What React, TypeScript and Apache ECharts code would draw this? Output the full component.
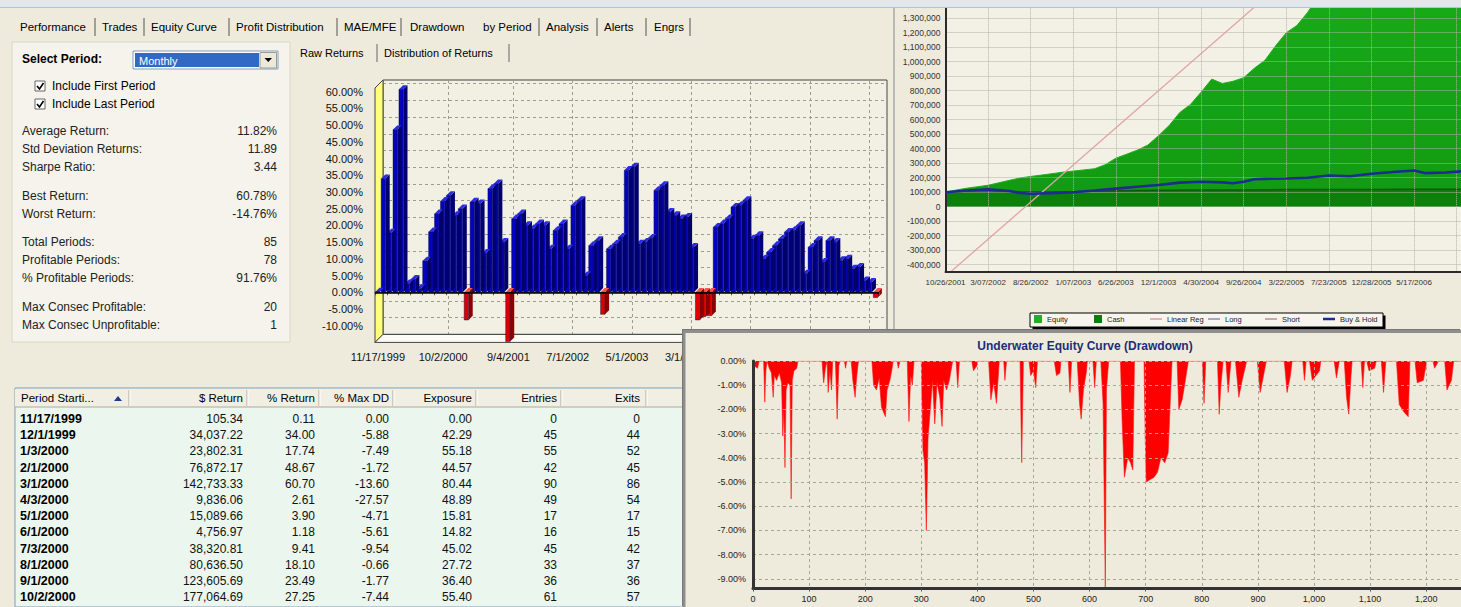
import React, { useEffect, useRef } from 'react';
import * as echarts from 'echarts';

const FONT = '"Liberation Sans", Arial, sans-serif';

// ---------------- Raw returns by period (monthly) ----------------
const periodStarts = [
  '11/17/1999', '12/1/1999',
  '1/3/2000', '2/1/2000', '3/1/2000', '4/3/2000', '5/1/2000', '6/1/2000', '7/3/2000', '8/1/2000', '9/1/2000', '10/2/2000', '11/1/2000', '12/1/2000',
  '1/2/2001', '2/1/2001', '3/1/2001', '4/2/2001', '5/1/2001', '6/1/2001', '7/2/2001', '8/1/2001', '9/4/2001', '10/1/2001', '11/1/2001', '12/3/2001',
  '1/2/2002', '2/1/2002', '3/1/2002', '4/1/2002', '5/1/2002', '6/3/2002', '7/1/2002', '8/1/2002', '9/3/2002', '10/1/2002', '11/1/2002', '12/2/2002',
  '1/2/2003', '2/3/2003', '3/3/2003', '4/1/2003', '5/1/2003', '6/2/2003', '7/1/2003', '8/1/2003', '9/2/2003', '10/1/2003', '11/3/2003', '12/1/2003',
  '1/2/2004', '2/2/2004', '3/1/2004', '4/1/2004', '5/3/2004', '6/1/2004', '7/1/2004', '8/2/2004', '9/1/2004', '10/1/2004', '11/1/2004', '12/1/2004',
  '1/3/2005', '2/1/2005', '3/1/2005', '4/1/2005', '5/2/2005', '6/1/2005', '7/1/2005', '8/1/2005', '9/1/2005', '10/3/2005', '11/1/2005', '12/1/2005',
  '1/3/2006', '2/1/2006', '3/1/2006', '4/3/2006', '5/1/2006', '6/1/2006', '7/3/2006', '8/1/2006', '9/1/2006', '10/2/2006', '11/1/2006',
];
const returnsPct = [
  0.11, 34.0, 17.74, 48.67, 60.7, 2.61, 3.9, 1.18, 9.41, 18.1, 23.49, 27.25,
  29.0, 23.0, 25.0, -8.3, 27.0, 26.5, 11.7, 31.0, 32.5, 15.0, -14.76, 22.0,
  23.5, 20.0, 19.0, 20.5, 20.0, 13.0, 18.5, 20.5, 13.0, 26.0, 27.5, 5.0,
  14.0, 15.5, -6.6, 13.0, 14.5, 16.5, 36.5, 37.5, 14.5, 15.0, 16.2, 30.5,
  32.0, 24.0, 23.0, 22.0, 22.5, 13.5, -8.3, -7.3, -7.0, 19.5, 20.5, 22.0,
  25.5, 26.0, 27.5, 16.0, 17.0, 10.0, 12.0, 14.0, 16.0, 18.0, 18.5, 20.0,
  5.5, 13.5, 15.5, 9.0, 15.5, 15.0, 9.5, 10.0, 7.0, 7.5, 3.5, 3.0, -1.6,
];
const periodLabelIndex = [0, 11, 22, 32, 42, 52];
const periodGridIndex = [0, 11, 22, 32, 42, 52, 62, 72, 82];

// ---------------- Summary statistics ----------------
const statLabels = [
  'Average Return:', 'Std Deviation Returns:', 'Sharpe Ratio:',
  'Best Return:', 'Worst Return:',
  'Total Periods:', 'Profitable Periods:', '% Profitable Periods:',
  'Max Consec Profitable:', 'Max Consec Unprofitable:',
];
const statValues = ['11.82%', '11.89', '3.44', '60.78%', '-14.76%', '85', '78', '91.76%', '20', '1'];

// ---------------- Period table ----------------
const tableColumns = ['Period Starti...', '$ Return', '% Return', '% Max DD', 'Exposure', 'Entries', 'Exits'];
const tableDates = ['11/17/1999', '12/1/1999', '1/3/2000', '2/1/2000', '3/1/2000', '4/3/2000', '5/1/2000', '6/1/2000', '7/3/2000', '8/1/2000', '9/1/2000', '10/2/2000'];
const tableDollar = ['105.34', '34,037.22', '23,802.31', '76,872.17', '142,733.33', '9,836.06', '15,089.66', '4,756.97', '38,320.81', '80,636.50', '123,605.69', '177,064.69'];
const tablePct = ['0.11', '34.00', '17.74', '48.67', '60.70', '2.61', '3.90', '1.18', '9.41', '18.10', '23.49', '27.25'];
const tableMaxDD = ['0.00', '-5.88', '-7.49', '-1.72', '-13.60', '-27.57', '-4.71', '-5.61', '-9.54', '-0.66', '-1.77', '-7.44'];
const tableExposure = ['0.00', '42.29', '55.18', '44.57', '80.44', '48.89', '15.81', '14.82', '45.02', '27.72', '36.40', '55.40'];
const tableEntries = ['0', '45', '55', '42', '90', '49', '17', '16', '45', '33', '36', '61'];
const tableExits = ['0', '44', '52', '45', '86', '54', '17', '15', '42', '37', '36', '57'];

// ---------------- Equity curve (x in date-label steps) ----------------
const equityDates = ['10/26/2001', '3/07/2002', '8/26/2002', '1/07/2003', '6/26/2003', '12/1/2003', '4/30/2004', '9/26/2004', '3/22/2005', '7/23/2005', '12/28/2005', '5/17/2006'];
const equityCurve = [
  [0, 100000], [0.25, 115000], [0.5, 128000], [0.75, 138000], [1, 148000], [1.25, 165000], [1.5, 182000], [1.75, 198000],
  [2, 209000], [2.25, 218000], [2.5, 228000], [2.75, 238000], [3, 246000], [3.25, 254000], [3.5, 262000], [3.75, 290000],
  [4, 335000], [4.25, 362000], [4.5, 390000], [4.75, 425000], [5, 490000], [5.25, 560000], [5.5, 650000], [5.75, 705000],
  [6, 790000], [6.25, 880000], [6.5, 850000], [6.75, 865000], [7, 890000], [7.25, 955000], [7.5, 1010000], [7.75, 1110000],
  [8, 1200000], [8.25, 1250000], [8.5, 1340000], [8.75, 1450000], [9, 1560000], [9.5, 1700000], [10, 1850000], [10.5, 1950000],
  [11, 2100000], [11.5, 2200000], [12, 2350000], [12.5, 2450000],
];
const cashCurve = [
  [0, 100000], [1, 100000], [2, 102000], [3, 104000], [4, 110000], [5, 113000], [6, 115000], [7, 116000],
  [8, 118000], [9, 118000], [10, 119000], [11, 120000], [12.5, 120000],
];
const buyHoldCurve = [
  [0, 100000], [0.5, 112000], [1, 120000], [1.5, 108000], [1.75, 95000], [2, 90000], [2.5, 94000], [3, 100000],
  [3.5, 112000], [4, 125000], [4.5, 138000], [5, 150000], [5.5, 166000], [6, 172000], [6.5, 168000], [6.75, 162000],
  [7, 172000], [7.25, 190000], [7.5, 192000], [8, 195000], [8.5, 200000], [9, 215000], [9.5, 210000], [10, 228000],
  [10.5, 240000], [11, 250000], [11.25, 232000], [11.75, 236000], [12.5, 252000],
];
const linearReg = [[0, -480000], [12.5, 2720000]];
const equityLegend = ['Equity', 'Cash', 'Linear Reg', 'Long', 'Short', 'Buy & Hold'];

// ---------------- Underwater curve (day, drawdown %) ----------------
const drawdownPoints = [
  [0, 0], [2, -0.2], [8, -0.3], [11, 0], [19, 0], [21, -1.7], [23, -0.4], [25, 0],
  [29, -0.3], [33, -0.5], [36, -1.5], [38, -0.6], [42, -0.8], [47, -0.5], [51, -0.9], [53, -3.1], [55, -2.0], [57, -4.4],
  [59, -1.2], [62, -0.9], [66, -1.0], [68, -5.7], [70, -0.8], [73, -0.4], [78, -0.3], [80, 0],
  [123, 0], [126, -0.9], [129, -0.3], [132, 0], [134, -1.3], [137, -0.4], [140, -1.2], [142, 0],
  [147, 0], [150, -2.4], [153, -0.2], [155, 0], [163, 0], [165, -0.3], [167, 0],
  [175, 0], [178, -0.8], [182, -1.5], [185, -0.6], [188, 0],
  [212, 0], [215, -1.0], [220, -1.2], [225, -0.7], [229, -1.9], [236, -2.3], [239, -1.2], [244, -0.8], [248, -0.3], [250, 0],
  [257, 0], [259, -0.3], [262, 0], [275, 0], [278, -2.5], [281, -0.6], [284, -1.0], [287, 0],
  [300, 0], [303, -3.7], [306, -4.2], [309, -7.0], [312, -3.2], [316, -2.0], [320, -0.8], [324, -2.6], [328, -0.9],
  [333, -1.5], [337, -2.7], [340, -0.8], [345, -1.2], [350, -0.8], [356, 0],
  [362, 0], [365, -1.1], [368, 0], [390, 0], [393, -0.4], [399, -0.2], [401, 0],
  [420, 0], [424, -1.6], [429, -0.9], [434, -1.75], [439, 0], [447, 0], [449, -0.8], [452, 0],
  [476, 0], [479, -4.2], [482, 0], [492, 0], [495, -0.6], [500, -0.4], [504, -1.1], [507, 0],
  [537, 0], [541, -0.6], [547, -0.5], [549, 0], [562, 0], [565, -1.3], [568, 0],
  [578, 0], [582, -1.75], [585, -2.4], [589, -1.2], [594, -0.5], [596, 0],
  [606, 0], [609, -1.1], [612, 0], [620, 0], [624, -1.75], [628, -9.4], [630, -1.2], [634, 0],
  [655, 0], [658, -2.5], [662, -4.8], [668, -4.0], [673, -4.2], [677, -4.5], [680, 0],
  [697, 0], [699, -3.0], [701, -5.0], [708, -4.9], [715, -4.8], [721, -4.6], [727, -4.0], [734, -4.2], [740, -3.8], [745, -1.0], [747, 0],
  [756, 0], [759, -2.0], [765, -1.6], [770, -0.9], [776, 0], [801, 0], [804, -1.75], [807, 0],
  [828, 0], [831, -2.2], [834, -1.0], [838, 0], [843, 0], [847, -1.3], [852, 0],
  [860, 0], [866, -1.5], [872, -0.8], [880, 0], [899, 0], [904, -1.3], [910, -0.6], [915, 0],
  [947, 0], [952, -1.3], [958, -0.6], [961, 0], [980, 0], [983, -0.8], [986, 0],
  [992, 0], [997, -0.8], [1010, -0.4], [1012, 0], [1036, 0], [1040, -0.7], [1045, 0],
  [1054, 0], [1058, -1.5], [1062, -2.2], [1066, -0.6], [1068, 0], [1084, 0], [1087, -1.1], [1090, 0],
  [1094, 0], [1098, -0.4], [1108, -0.3], [1111, 0], [1120, 0], [1124, -1.3], [1128, 0],
  [1147, 0], [1152, -1.8], [1160, -2.1], [1168, -2.3], [1171, 0], [1180, 0], [1184, -0.9], [1195, -0.8], [1201, 0],
  [1212, 0], [1215, -0.3], [1222, 0], [1233, 0], [1237, -1.2], [1245, -0.8], [1249, 0], [1300, 0],
];

// ---------------- helpers ----------------
const txt = (text: string, x: number, y: number, o: any = {}) => ({
  type: 'text', x, y, z: o.z ?? 10, silent: true,
  style: {
    text, fill: o.fill ?? '#000', fontSize: o.size ?? 12, fontFamily: FONT,
    fontWeight: o.bold ? 'bold' : 'normal', align: o.align ?? 'left', verticalAlign: 'middle',
  },
});
const rect = (x: number, y: number, w: number, h: number, fill: string, stroke?: string, z = 1) => ({
  type: 'rect', z, silent: true, shape: { x, y, width: w, height: h },
  style: { fill, stroke: stroke ?? 'none', lineWidth: 1 },
});
const ln = (x1: number, y1: number, x2: number, y2: number, stroke: string, w = 1, z = 1) => ({
  type: 'line', z, silent: true, shape: { x1, y1, x2, y2 }, style: { stroke, lineWidth: w },
});
const poly = (points: number[][], fill: string, stroke?: string, z = 1) => ({
  type: 'polygon', z, silent: true, shape: { points }, style: { fill, stroke: stroke ?? 'none', lineWidth: 1 },
});

function buildMainGraphics() {
  const g: any[] = [];
  // window top strip
  g.push(rect(0, 0, 1461, 7, '#E3E6EA', undefined, 20));
  g.push(ln(0, 7.5, 1461, 7.5, '#A9C6DD', 1, 21));

  // main tabs
  const tabs = ['Performance', 'Trades', 'Equity Curve', 'Profit Distribution', 'MAE/MFE', 'Drawdown', 'by Period', 'Analysis', 'Alerts', 'Engrs'];
  const tabX = [20, 102, 151, 236, 344, 410, 483, 546, 604, 654];
  const sepX = [95, 144, 229, 337, 401, -1, 539, 597, 646, 690];
  tabs.forEach((t, i) => {
    g.push(txt(t, tabX[i], 27, { size: 11.5 }));
    if (sepX[i] > 0) g.push(ln(sepX[i], 18, sepX[i], 36, '#555', 1));
  });

  // left statistics panel
  g.push(rect(12, 42, 278, 300, '#F5F3EB', '#DAD6C8', 0));
  g.push(txt('Select Period:', 22, 59, { bold: true, size: 12 }));
  g.push(rect(133, 51, 145, 18, '#FFFFFF', '#7F9DB9'));
  g.push(rect(135, 53, 124, 14, '#316AC5'));
  g.push(txt('Monthly', 139, 60.5, { size: 11, fill: '#FFFFFF' }));
  g.push(rect(260, 52.5, 16.5, 15.5, '#ECE9D8', '#9A9A9A'));
  g.push(poly([[264.5, 58], [272, 58], [268.25, 62]], '#000', undefined, 2));
  ['Include First Period', 'Include Last Period'].forEach((t, i) => {
    const y = 86 + i * 18;
    g.push(rect(35, y - 5, 10, 10, '#FFFFFF', '#666'));
    g.push({ type: 'polyline', z: 2, silent: true, shape: { points: [[37, y], [39.5, y + 3], [43.5, y - 3]] }, style: { stroke: '#000', lineWidth: 1.6, fill: 'none' } });
    g.push(txt(t, 52, y, { size: 12 }));
  });
  const statY = [131, 149, 167, 196, 214, 242, 260, 278, 307, 325];
  statLabels.forEach((t, i) => {
    g.push(txt(t, 22, statY[i], { size: 12, fill: '#222' }));
    g.push(txt(statValues[i], 277, statY[i], { size: 12, fill: '#222', align: 'right' }));
  });

  // raw returns panel tabs
  g.push(txt('Raw Returns', 300, 53, { size: 11 }));
  g.push(ln(377, 44, 377, 62, '#666', 1));
  g.push(txt('Distribution of Returns', 384, 53, { size: 11 }));
  g.push(ln(509, 44, 509, 62, '#666', 1));

  // 3D walls of the raw returns chart
  g.push(poly([[375, 88], [383, 80], [383, 334.4], [375, 342.4]], '#FFFF7A', '#444', 1));
  g.push(poly([[375, 342.4], [879, 342.4], [887, 334.4], [383, 334.4]], '#FBFBF8', '#444', 1));

  // equity window border
  g.push(ln(894, 8, 894, 331, '#A8A8A8', 1.5, 3));

  // equity legend box and its shadow
  g.push(rect(1032.5, 315.5, 353, 14, '#000', undefined, 2));
  g.push(rect(1030, 313, 353, 14, '#F7F5EE', '#000', 3));

  // period table
  const colEdges = [15, 130, 248, 320, 394, 477, 562, 647, 700];
  const rightX = [0, 243, 315, 389, 472, 557, 640];
  g.push(rect(15, 388, 680, 219, '#EAF6EE', '#7F9DB9', 0));
  for (let c = 0; c < colEdges.length - 1; c++) {
    g.push(rect(colEdges[c], 389, colEdges[c + 1] - colEdges[c], 18, '#F1EFE4', undefined, 1));
    g.push(ln(colEdges[c + 1] - 1, 390, colEdges[c + 1] - 1, 406, '#ACA899', 1, 2));
    g.push(ln(colEdges[c + 1], 390, colEdges[c + 1], 406, '#FFFFFF', 1, 2));
  }
  g.push(ln(15, 407, 700, 407, '#ACA899', 1, 2));
  tableColumns.forEach((t, c) => {
    if (c === 0) g.push(txt(t, 21, 398, { size: 11.5 }));
    else g.push(txt(t, rightX[c], 398, { size: 11.5, align: 'right' }));
  });
  g.push(poly([[114, 401], [122, 401], [118, 396]], '#1F3A8A', undefined, 3));
  const cols = [tableDollar, tablePct, tableMaxDD, tableExposure, tableEntries, tableExits];
  tableDates.forEach((d, r) => {
    const y = 419 + r * 16.2;
    g.push(txt(d, 20, y, { size: 12.5, bold: true }));
    cols.forEach((col, c) => g.push(txt(col[r], rightX[c + 1], y, { size: 12, fill: '#111', align: 'right' })));
  });
  return g;
}

function render3DBar(params: any, api: any) {
  const i = api.value(0);
  const v = api.value(1);
  const base = api.coord([i, 0]);
  const top = api.coord([i, v]);
  const band = api.size([1, 0])[0];
  const w = band * 0.74;
  const d = band * 0.7;
  const xl = base[0] - band / 2 + band * 0.04;
  const xr = xl + w;
  const yHi = Math.min(base[1], top[1]);
  const yLo = Math.max(base[1], top[1]);
  const neg = v < 0;
  const front = neg ? '#D80000' : '#0404BE';
  const side = neg ? '#8C0000' : '#00006E';
  const topC = neg ? '#FF5050' : '#2B2BE6';
  return {
    type: 'group',
    children: [
      { type: 'polygon', shape: { points: [[xr, yHi], [xr + d, yHi - d], [xr + d, yLo - d], [xr, yLo]] }, style: { fill: side } },
      { type: 'polygon', shape: { points: [[xl, yHi], [xl + d, yHi - d], [xr + d, yHi - d], [xr, yHi]] }, style: { fill: topC } },
      { type: 'rect', shape: { x: xl, y: yHi, width: w, height: yLo - yHi }, style: { fill: front, stroke: '#00004A', lineWidth: 0.4 } },
    ],
  };
}

function buildLegends() {
  const lefts = [1034, 1094, 1150, 1208, 1265, 1323];
  const isArea = [true, true, false, false, false, false];
  return equityLegend.map((name, i) => ({
    show: true, left: lefts[i], top: 315, orient: 'horizontal', padding: 0, z: 5,
    itemWidth: isArea[i] ? 8 : 12, itemHeight: isArea[i] ? 8 : (name === 'Buy & Hold' ? 2.5 : 1.5), itemGap: 3,
    selectedMode: false,
    textStyle: { fontSize: 7.5, color: '#222', fontFamily: FONT },
    data: [{ name, icon: 'rect' }],
  }));
}

function buildMainOption(): any {
  const barData = returnsPct.map((v, i) => [i, v]).reverse();
  const fmtThousands = (v: number) => Math.round(v).toLocaleString('en-US');
  return {
    animation: false,
    backgroundColor: '#EEEBDC',
    textStyle: { fontFamily: FONT },
    grid: [
      { left: 375, top: 75, width: 504, height: 267.4, show: false, containLabel: false, outerBoundsMode: 'none' },
      { left: 383, top: 80, width: 504, height: 254.4, show: true, backgroundColor: '#F2EFE3', borderColor: '#444', borderWidth: 1, containLabel: false, outerBoundsMode: 'none' },
      { left: 945.5, top: 3.7, width: 532.5, height: 268.3, show: true, backgroundColor: '#F3F0E6', borderWidth: 0, containLabel: false, outerBoundsMode: 'none' },
    ],
    xAxis: [
      {
        type: 'category', gridIndex: 0, data: periodStarts, boundaryGap: true, z: 3,
        axisLine: { show: true, lineStyle: { color: '#333', width: 1 } },
        axisTick: { show: true, interval: 1, length: 3, lineStyle: { color: '#555' } },
        axisLabel: { interval: (i: number) => periodLabelIndex.includes(i), fontSize: 11, color: '#111', margin: 9, fontFamily: FONT },
        splitLine: { show: false },
      },
      {
        type: 'category', gridIndex: 1, data: periodStarts, boundaryGap: true,
        axisLine: { show: false }, axisTick: { show: false }, axisLabel: { show: false },
        splitLine: { show: true, interval: (i: number) => periodGridIndex.includes(i), lineStyle: { type: [3, 3], color: '#9E9C90', width: 1 } },
      },
      {
        type: 'value', gridIndex: 2, min: 0, max: 12.5, interval: 1, z: 5,
        axisLine: { show: true, onZero: false, lineStyle: { color: '#2A2A2A', width: 2 } },
        axisTick: { show: false },
        axisLabel: { formatter: (v: number) => equityDates[v] ?? '', fontSize: 8, color: '#333', margin: 6, fontFamily: FONT, showMaxLabel: false },
        splitLine: { show: true, lineStyle: { type: 'dotted', color: '#B4B1A4', width: 1 } },
      },
    ],
    yAxis: [
      {
        type: 'value', gridIndex: 0, min: -15, max: 65, interval: 5,
        axisLine: { show: false }, axisTick: { show: false },
        axisLabel: { formatter: (v: number) => (v > 60 || v < -10 ? '' : v.toFixed(2) + '%'), fontSize: 11, color: '#111', margin: 12, fontFamily: FONT },
        splitLine: { show: false },
      },
      {
        type: 'value', gridIndex: 1, min: -15, max: 61.1, minInterval: 5, maxInterval: 5, splitNumber: 15,
        axisLine: { show: false }, axisTick: { show: false }, axisLabel: { show: false },
        splitLine: { show: true, showMinLine: false, showMaxLine: false, lineStyle: { type: [3, 3], color: '#9E9C90', width: 1 } },
      },
      {
        type: 'value', gridIndex: 2, min: -450000, max: 1400000, minInterval: 100000, maxInterval: 100000, splitNumber: 18, z: 5,
        axisLine: { show: true, lineStyle: { color: '#2A2A2A', width: 2 } },
        axisTick: { show: false },
        axisLabel: { formatter: (v: number) => (Math.round(v) % 100000 === 0 ? fmtThousands(v) : ''), fontSize: 8.5, color: '#333', margin: 5, fontFamily: FONT },
        splitLine: { show: true, showMinLine: false, showMaxLine: false, lineStyle: { type: 'dotted', color: '#B4B1A4', width: 1 } },
      },
    ],
    legend: buildLegends(),
    graphic: { elements: buildMainGraphics() },
    series: [
      {
        type: 'custom', name: 'Raw Returns', xAxisIndex: 0, yAxisIndex: 0, z: 3,
        renderItem: render3DBar, encode: { x: 0, y: 1 }, data: barData, clip: false,
        markLine: {
          silent: true, symbol: 'none', label: { show: false },
          lineStyle: { color: '#000', width: 1.5, type: 'solid' }, data: [{ yAxis: 0 }],
        },
      },
      {
        type: 'line', name: 'Equity', xAxisIndex: 2, yAxisIndex: 2, data: equityCurve, symbol: 'none', z: 2,
        color: '#22B022', lineStyle: { color: '#1DB01D', width: 1 },
        areaStyle: {
          opacity: 1,
          color: new echarts.graphic.LinearGradient(0, 0, 0, 1, [
            { offset: 0, color: '#1CB41C' },
            { offset: 1, color: '#129A12' },
          ]),
        },
      },
      {
        type: 'line', name: 'Cash', xAxisIndex: 2, yAxisIndex: 2, data: cashCurve, symbol: 'none', z: 3,
        color: '#0B7D0B', lineStyle: { color: '#0A5C0A', width: 1.5 }, areaStyle: { color: '#0B800B', opacity: 1 },
      },
      {
        type: 'line', name: 'Linear Reg', xAxisIndex: 2, yAxisIndex: 2, data: linearReg, symbol: 'none', z: 4,
        color: '#D9A0A0', lineStyle: { color: '#E2A4A4', width: 1.3 },
      },
      { type: 'line', name: 'Long', xAxisIndex: 2, yAxisIndex: 2, data: [], symbol: 'none', color: '#8C8CB4', lineStyle: { width: 1 } },
      { type: 'line', name: 'Short', xAxisIndex: 2, yAxisIndex: 2, data: [], symbol: 'none', color: '#B49090', lineStyle: { width: 1 } },
      {
        type: 'line', name: 'Buy & Hold', xAxisIndex: 2, yAxisIndex: 2, data: buyHoldCurve, symbol: 'none', z: 5,
        color: '#1C2C90', lineStyle: { color: '#1C2C90', width: 2.6 },
      },
    ],
  };
}

function buildUnderwaterOption(): any {
  return {
    animation: false,
    backgroundColor: '#EEEBDC',
    textStyle: { fontFamily: FONT },
    grid: { left: 70, top: 31, width: 729.3, height: 227.5, show: false, containLabel: false, outerBoundsMode: 'none' },
    xAxis: {
      type: 'value', min: 0, max: 1300, interval: 100, z: 5,
      axisLine: { show: true, onZero: false, lineStyle: { color: '#333', width: 3 } },
      axisTick: { show: true, length: 3, lineStyle: { color: '#555' } },
      axisLabel: { formatter: (v: number) => (v > 1250 ? '' : v.toLocaleString('en-US')), fontSize: 9, color: '#222', margin: 6, fontFamily: FONT, showMaxLabel: false },
      splitLine: { show: true, lineStyle: { type: [3, 3], color: '#A9A698', width: 1 } },
    },
    yAxis: {
      type: 'value', min: -9.4, max: 0, minInterval: 1, maxInterval: 1, splitNumber: 9, z: 5,
      axisLine: { show: true, lineStyle: { color: '#333', width: 3 } },
      axisTick: { show: false },
      axisLabel: { formatter: (v: number) => (Number.isInteger(Math.round(v * 1000) / 1000) ? v.toFixed(2) + '%' : ''), fontSize: 9, color: '#222', margin: 7, fontFamily: FONT },
      splitLine: { show: true, showMinLine: false, lineStyle: { type: [3, 3], color: '#A9A698', width: 1 } },
    },
    graphic: {
      elements: [
        rect(0, 0, 778, 3, '#8E8E8E', undefined, 10),
        rect(0, 0, 2.5, 277, '#8E8E8E', undefined, 10),
        txt('Underwater Equity Curve (Drawdown)', 402, 16, { size: 12, bold: true, fill: '#1E2D78', align: 'center' }),
      ],
    },
    series: [
      {
        type: 'line', name: 'Drawdown', data: drawdownPoints, symbol: 'none', z: 2,
        lineStyle: { color: '#FF1010', width: 0.6 }, areaStyle: { color: '#FF0000', opacity: 1 },
      },
    ],
  };
}

export default function App() {
  const mainRef = useRef<HTMLDivElement>(null);
  const uwRef = useRef<HTMLDivElement>(null);
  useEffect(() => {
    const main = echarts.init(mainRef.current as HTMLDivElement, null, { renderer: 'svg' });
    main.setOption(buildMainOption());
    const uw = echarts.init(uwRef.current as HTMLDivElement, null, { renderer: 'svg' });
    uw.setOption(buildUnderwaterOption());
    return () => {
      main.dispose();
      uw.dispose();
    };
  }, []);
  return (
    <div style={{ position: 'fixed', left: 0, top: 0, width: 1461, height: 607, overflow: 'hidden', background: '#EEEBDC' }}>
      <div ref={mainRef} style={{ position: 'absolute', left: 0, top: 0, width: 1461, height: 607 }} />
      <div ref={uwRef} style={{ position: 'absolute', left: 683, top: 330, width: 778, height: 277, boxShadow: '-1px -1px 0 #777' }} />
    </div>
  );
}
